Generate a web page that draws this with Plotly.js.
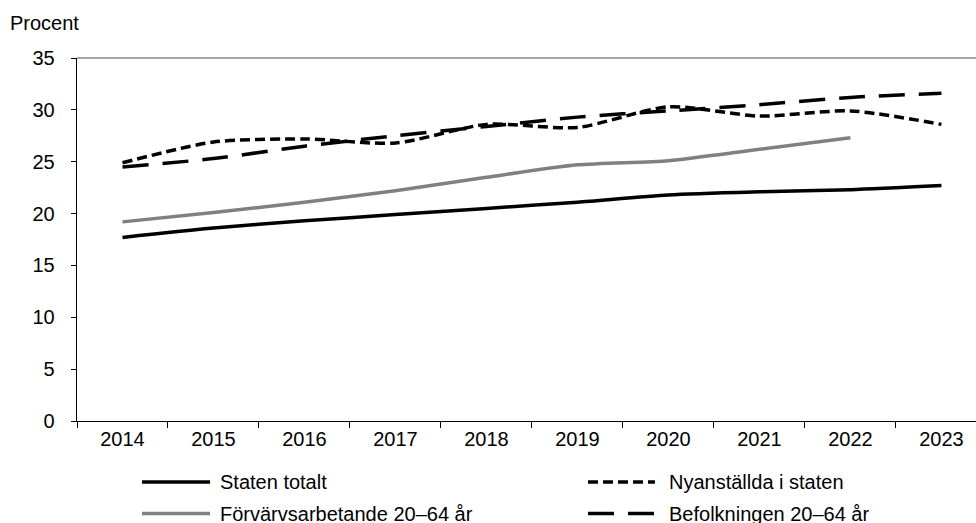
<!DOCTYPE html>
<html>
<head>
<meta charset="utf-8">
<script src="https://cdn.plot.ly/plotly-3.0.1.min.js"></script>
<style>html,body{margin:0;padding:0;background:#fff;}#chart{width:976px;height:523px;}</style>
</head>
<body>
<div id="chart"></div>
<script>
const years = ['2014','2015','2016','2017','2018','2019','2020','2021','2022','2023'];
const statenTotalt = [17.7, 18.6, 19.3, 19.9, 20.5, 21.1, 21.8, 22.1, 22.3, 22.7];
const nyanstallda = [24.9, 26.9, 27.2, 26.8, 28.6, 28.3, 30.3, 29.4, 29.9, 28.6];
const forvarvsarbetande = [19.2, 20.1, 21.1, 22.2, 23.5, 24.7, 25.1, 26.2, 27.3, null];
const befolkningen = [24.5, 25.3, 26.5, 27.5, 28.4, 29.3, 29.9, 30.5, 31.2, 31.6];
const seriesNames = ['Staten totalt', 'Nyanställda i staten', 'Förvärvsarbetande 20–64 år', 'Befolkningen 20–64 år'];
const yTicks = [0, 5, 10, 15, 20, 25, 30, 35];

const FONT = 'Liberation Sans, Arial, sans-serif';
const FS = 20;
const styles = [
  {color: '#000000', width: 3.5, dash: 'solid'},
  {color: '#000000', width: 3.5, dash: '10px,5px'},
  {color: '#808080', width: 3.5, dash: 'solid'},
  {color: '#000000', width: 3.5, dash: '26px,14px'}
];
const seriesData = [statenTotalt, nyanstallda, forvarvsarbetande, befolkningen];

const traces = seriesData.map((vals, i) => ({
  type: 'scatter', mode: 'lines', x: years, y: vals, name: seriesNames[i],
  line: {color: styles[i].color, width: styles[i].width, dash: styles[i].dash, shape: 'spline', smoothing: 0.7},
  connectgaps: false, showlegend: false, hoverinfo: 'skip'
}));

// custom legend (two columns)
const legendPos = [
  {x0: 0.0723, x1: 0.148, tx: 0.1568, y: -0.168},
  {x0: 0.5684, x1: 0.6429, tx: 0.656, y: -0.168},
  {x0: 0.0723, x1: 0.148, tx: 0.1568, y: -0.255},
  {x0: 0.5684, x1: 0.6429, tx: 0.656, y: -0.255}
];
const legendOrder = [0, 1, 2, 3];
const shapes = [
  {type: 'line', xref: 'paper', yref: 'paper', x0: 0, x1: 1, y0: 1, y1: 1, line: {color: '#868686', width: 1.3}}
];
const annotations = [
  {xref: 'paper', yref: 'paper', x: -0.0768, y: 1.097, xanchor: 'left', yanchor: 'middle', showarrow: false,
   text: 'Procent', font: {family: FONT, size: 20, color: '#000'}}
];
legendOrder.forEach((si, k) => {
  const p = legendPos[k];
  shapes.push({type: 'line', xref: 'paper', yref: 'paper', x0: p.x0, x1: p.x1, y0: p.y, y1: p.y,
    line: {color: styles[si].color, width: styles[si].width, dash: styles[si].dash}});
  annotations.push({xref: 'paper', yref: 'paper', x: p.tx, y: p.y, xanchor: 'left', yanchor: 'middle',
    showarrow: false, text: seriesNames[si], font: {family: FONT, size: FS, color: '#000'}});
});

const layout = {
  width: 976, height: 523,
  margin: {l: 77, r: 0, t: 58, b: 102, pad: 0},
  paper_bgcolor: '#fff', plot_bgcolor: '#fff',
  font: {family: FONT, size: FS, color: '#000'},
  showlegend: false,
  xaxis: {
    type: 'category', range: [-0.5, 9.38], tickson: 'boundaries',
    ticks: 'outside', ticklen: 6, tickwidth: 1, tickcolor: '#000',
    showline: true, linecolor: '#000', linewidth: 1.3, showgrid: false, zeroline: false,
    tickfont: {family: FONT, size: FS, color: '#000'}, fixedrange: true
  },
  xaxis2: {
    type: 'category', overlaying: 'x', matches: 'x', anchor: 'y', side: 'bottom', tickson: 'boundaries',
    ticks: 'inside', ticklen: 6, tickwidth: 1, tickcolor: '#000', showticklabels: false,
    showline: false, showgrid: false, zeroline: false
  },
  yaxis: {
    range: [0, 35], tickvals: yTicks, ticktext: yTicks.map(String),
    ticks: 'outside', ticklen: 5, tickwidth: 1, tickcolor: '#000', ticklabelstandoff: 12,
    showline: true, linecolor: '#000', linewidth: 1.3, showgrid: false, zeroline: false,
    tickfont: {family: FONT, size: FS, color: '#000'}, fixedrange: true
  },
  yaxis2: {
    range: [0, 35], overlaying: 'y', matches: 'y', anchor: 'x', side: 'left', tickvals: yTicks,
    ticks: 'inside', ticklen: 5, tickwidth: 1, tickcolor: '#000', showticklabels: false,
    showline: false, showgrid: false, zeroline: false
  },
  shapes: shapes,
  annotations: annotations
};

Plotly.newPlot('chart', traces, layout, {displayModeBar: false, staticPlot: true});
</script>
</body>
</html>
